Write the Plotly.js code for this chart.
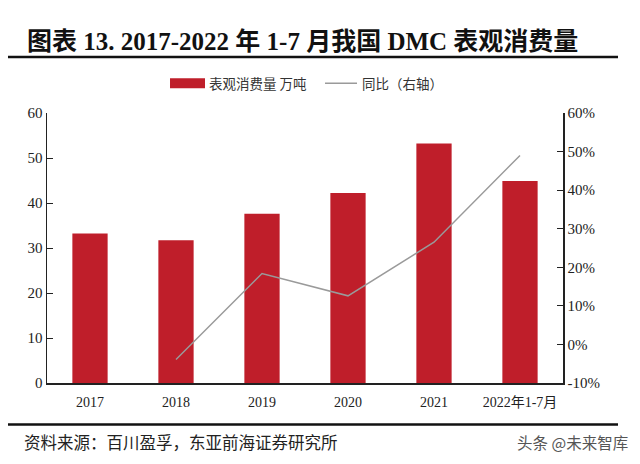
<!DOCTYPE html>
<html>
<head>
<meta charset="utf-8">
<script src="https://cdn.plot.ly/plotly-3.0.1.min.js"></script>
<style>html,body{margin:0;padding:0;background:#fff;}#chart{width:640px;height:464px;}</style>
</head>
<body>
<div id="chart"></div>
<script>
const categories = ["2017", "2018", "2019", "2020", "2021", "2022年1-7月"];
const consumption = [33.2, 31.7, 37.6, 42.2, 53.2, 44.9];
const yoyCategories = ["2018", "2019", "2020", "2021", "2022年1-7月"];
const yoy = [-3.9, 18.4, 12.6, 26.5, 49.0];
const leftTicks = [0, 10, 20, 30, 40, 50, 60];
const rightTicks = [-10, 0, 10, 20, 30, 40, 50, 60];

const serif = "Liberation Serif, 'Noto Sans CJK SC', serif";
const cjk = "'Noto Sans CJK SC', sans-serif";

const traces = [
  {
    type: "bar", x: categories, y: consumption, name: "表观消费量 万吨",
    marker: {color: "#BF1E2A"}, yaxis: "y", hoverinfo: "skip"
  },
  {
    type: "scatter", mode: "lines", x: yoyCategories, y: yoy, name: "同比（右轴）",
    line: {color: "#9a9a9a", width: 1.5}, yaxis: "y2", hoverinfo: "skip"
  }
];

const layout = {
  width: 640, height: 464,
  paper_bgcolor: "#ffffff", plot_bgcolor: "#ffffff",
  margin: {l: 47, r: 77, t: 113, b: 81},
  showlegend: false,
  bargap: 0.59,
  xaxis: {
    type: "category", showline: true, linecolor: "#222", linewidth: 1.5,
    ticks: "", showgrid: false, zeroline: false, ticklabelstandoff: 6,
    tickfont: {family: serif, size: 14, color: "#222"}
  },
  yaxis: {
    range: [0, 60], tickvals: leftTicks, showline: true, linecolor: "#222", linewidth: 1.5,
    ticks: "inside", ticklen: 6, tickcolor: "#222", showgrid: false, zeroline: false,
    tickfont: {family: serif, size: 15, color: "#222"}
  },
  yaxis2: {
    overlaying: "y", side: "right", range: [-10, 60], tickvals: rightTicks,
    ticktext: rightTicks.map(v => v + "%"),
    showline: true, linecolor: "#222", linewidth: 1.5,
    ticks: "inside", ticklen: 6, tickcolor: "#222", showgrid: false, zeroline: false,
    tickfont: {family: serif, size: 15, color: "#222"}
  },
  shapes: [
    {type: "line", xref: "paper", yref: "paper", x0: -0.0756, x1: 1.1066, y0: 1.2074, y1: 1.2074,
     line: {color: "#111", width: 2.5}},
    {type: "line", xref: "paper", yref: "paper", x0: -0.0756, x1: 1.1066, y0: -0.1537, y1: -0.1537,
     line: {color: "#111", width: 2.5}},
    {type: "rect", xref: "paper", yref: "paper", x0: 0.2384, x1: 0.3062, y0: 1.0915, y1: 1.1285,
     fillcolor: "#BF1E2A", line: {width: 0}},
    {type: "line", xref: "paper", yref: "paper", x0: 0.5388, x1: 0.6008, y0: 1.110, y1: 1.110,
     line: {color: "#9a9a9a", width: 1.5}}
  ],
  annotations: [
    {text: "<b>图表 13. 2017-2022 年 1-7 月我国 DMC 表观消费量</b>", xref: "paper", yref: "paper",
     x: -0.0426, y: 1.264, xanchor: "left", yanchor: "middle", showarrow: false,
     font: {family: serif, size: 25, color: "#111"}},
    {text: "表观消费量 万吨", xref: "paper", yref: "paper", x: 0.310, y: 1.110,
     xanchor: "left", yanchor: "middle", showarrow: false,
     font: {family: cjk, size: 13.5, color: "#333"}},
    {text: "同比（右轴）", xref: "paper", yref: "paper", x: 0.6066, y: 1.110,
     xanchor: "left", yanchor: "middle", showarrow: false,
     font: {family: cjk, size: 13.5, color: "#333"}},
    {text: "资料来源：百川盈孚，东亚前海证券研究所", xref: "paper", yref: "paper",
     x: -0.048, y: -0.2174, xanchor: "left", yanchor: "middle", showarrow: false,
     font: {family: cjk, size: 16.5, color: "#222"}},
    {text: "头条 @未来智库", xref: "paper", yref: "paper",
     x: 1.13, y: -0.2174, xanchor: "right", yanchor: "middle", showarrow: false,
     font: {family: cjk, size: 15.5, color: "#555"}}
  ]
};

Plotly.newPlot("chart", traces, layout, {staticPlot: true, displayModeBar: false});
</script>
</body>
</html>
